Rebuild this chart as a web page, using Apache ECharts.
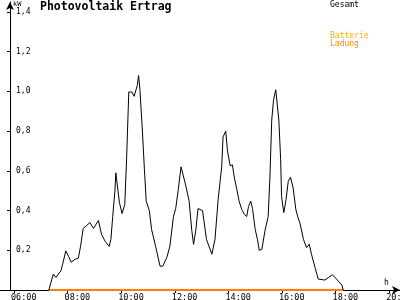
<!DOCTYPE html>
<html>
<head>
<meta charset="utf-8">
<script src="https://cdn.jsdelivr.net/npm/echarts@6/dist/echarts.min.js"></script>
<style>html,body{margin:0;padding:0;background:#fff}#c{width:400px;height:300px}</style>
</head>
<body>
<div id="c"></div>
<script>
// Time of day in minutes since midnight
const gesamtMinutes = [438,448,454,465,469,476,482,488,497,504,509,515,523,530,538,549,556,564,573,577,581,586,588,591,596,602,608,612,617,624,629,636,639,642,647,652,656,663,668,677,687,693,702,709,717,722,728,734,738,743,752,758,762,767,772,776,782,791,803,810,817,825,828,834,838,844,849,853,859,864,870,876,881,885,890,894,900,905,909,915,922,929,933,937,941,946,949,953,957,959,964,969,974,979,985,991,996,1000,1008,1015,1021,1026,1034,1041,1056,1064,1073,1082,1094,1097];
// Power in kW
const gesamtValues = [0,0.08,0.063,0.097,0.13,0.197,0.17,0.14,0.155,0.16,0.22,0.31,0.325,0.34,0.31,0.35,0.28,0.245,0.22,0.255,0.37,0.50,0.59,0.58,0.44,0.385,0.43,0.655,0.997,0.997,0.975,1.03,1.08,1.005,0.82,0.605,0.447,0.40,0.305,0.22,0.12,0.12,0.163,0.22,0.37,0.41,0.51,0.62,0.625,0.54,0.45,0.30,0.23,0.30,0.41,0.41,0.40,0.255,0.18,0.255,0.455,0.62,0.77,0.80,0.70,0.625,0.63,0.57,0.505,0.447,0.405,0.38,0.37,0.42,0.447,0.41,0.305,0.255,0.20,0.205,0.30,0.37,0.57,0.855,0.955,1.008,1.008,0.855,0.655,0.47,0.39,0.455,0.547,0.568,0.513,0.405,0.363,0.338,0.255,0.213,0.23,0.18,0.113,0.055,0.05,0.063,0.077,0.055,0.025,0.0];
const batterieMinutes = [438, 1097];
const batterieValues = [0, 0];
const yTickLabels = ['0','0,2','0,4','0,6','0,8','1,0','1,2','1,4'];
const titleText = 'Photovoltaik Ertrag';
const seriesNames = ['Gesamt', 'Batterie Ladung'];

const mono = 'DejaVu Sans Mono';
const toPairs = (mins, vals) => mins.map((m, i) => [m / 60, vals[i]]);

const chart = echarts.init(document.getElementById('c'), null, {renderer: 'canvas'});
chart.setOption({
  animation: false,
  backgroundColor: '#fff',
  title: {
    text: titleText, left: 40, top: 1, padding: 0,
    textStyle: {fontFamily: mono, fontWeight: 'bold', fontSize: 11.5, color: '#000'}
  },
  legend: [
    {data: [seriesNames[0]], left: 325, top: 1, padding: 0, icon: 'none', itemWidth: 0, itemHeight: 8,
     textStyle: {fontFamily: mono, fontSize: 8, color: '#000'}},
    {data: [seriesNames[1]], left: 325, top: 32, padding: 0, icon: 'none', itemWidth: 0, itemHeight: 16,
     formatter: () => '{a|Batterie}\n{b|Ladung}',
     textStyle: {fontFamily: mono, fontSize: 8,
       rich: {a: {color: '#FFB000', fontFamily: mono, fontSize: 8, lineHeight: 8},
              b: {color: '#FF8C00', fontFamily: mono, fontSize: 8, lineHeight: 8}}}}
  ],
  grid: {left: 0, right: 0, top: 2, bottom: 10, containLabel: false, outerBoundsMode: 'none'},
  xAxis: {
    type: 'value', min: 5.4776, max: 20.403, splitNumber: 7,
    name: 'h', nameLocation: 'end', nameGap: -16,
    nameTextStyle: {fontFamily: mono, fontSize: 8, color: '#000', verticalAlign: 'bottom', padding: [0, 0, 3, 0]},
    axisLine: {lineStyle: {color: '#000', width: 1}, symbol: ['none', 'arrow'], symbolSize: [6, 8]},
    axisTick: {length: 3, lineStyle: {color: '#000'}},
    splitLine: {show: false},
    axisLabel: {
      showMinLabel: false, showMaxLabel: false, margin: 3, align: 'left', padding: [0, 0, 0, -3],
      fontFamily: mono, fontSize: 8.5, color: '#000',
      formatter: v => String(Math.round(v)).padStart(2, '0') + ':00'
    }
  },
  yAxis: {
    type: 'value', min: 0, max: 1.45, interval: 0.2, offset: -10,
    name: 'kW', nameLocation: 'end', nameGap: 0,
    nameTextStyle: {fontFamily: mono, fontSize: 7, color: '#000', align: 'left', verticalAlign: 'top', padding: [0, 0, 0, 3]},
    axisLine: {show: true, lineStyle: {color: '#000', width: 1}, symbol: ['none', 'arrow'], symbolSize: [6, 8]},
    axisTick: {show: true, length: 3, lineStyle: {color: '#000'}},
    splitLine: {show: false},
    axisLabel: {
      inside: true, margin: 6, showMaxLabel: false, showMinLabel: false,
      fontFamily: mono, fontSize: 8, color: '#000',
      formatter: v => { const i = Math.round(v / 0.2); return (i > 0 && Math.abs(v - i * 0.2) < 1e-6) ? yTickLabels[i] : ''; }
    }
  },
  series: [
    {name: seriesNames[1], type: 'line', data: toPairs(batterieMinutes, batterieValues),
     showSymbol: false, symbol: 'none', color: '#FF8000', lineStyle: {color: '#FF8000', width: 2}, z: 3},
    {name: seriesNames[0], type: 'line', data: toPairs(gesamtMinutes, gesamtValues),
     showSymbol: false, symbol: 'none', color: '#000', lineStyle: {color: '#000', width: 1}, z: 4}
  ]
});
</script>
</body>
</html>
